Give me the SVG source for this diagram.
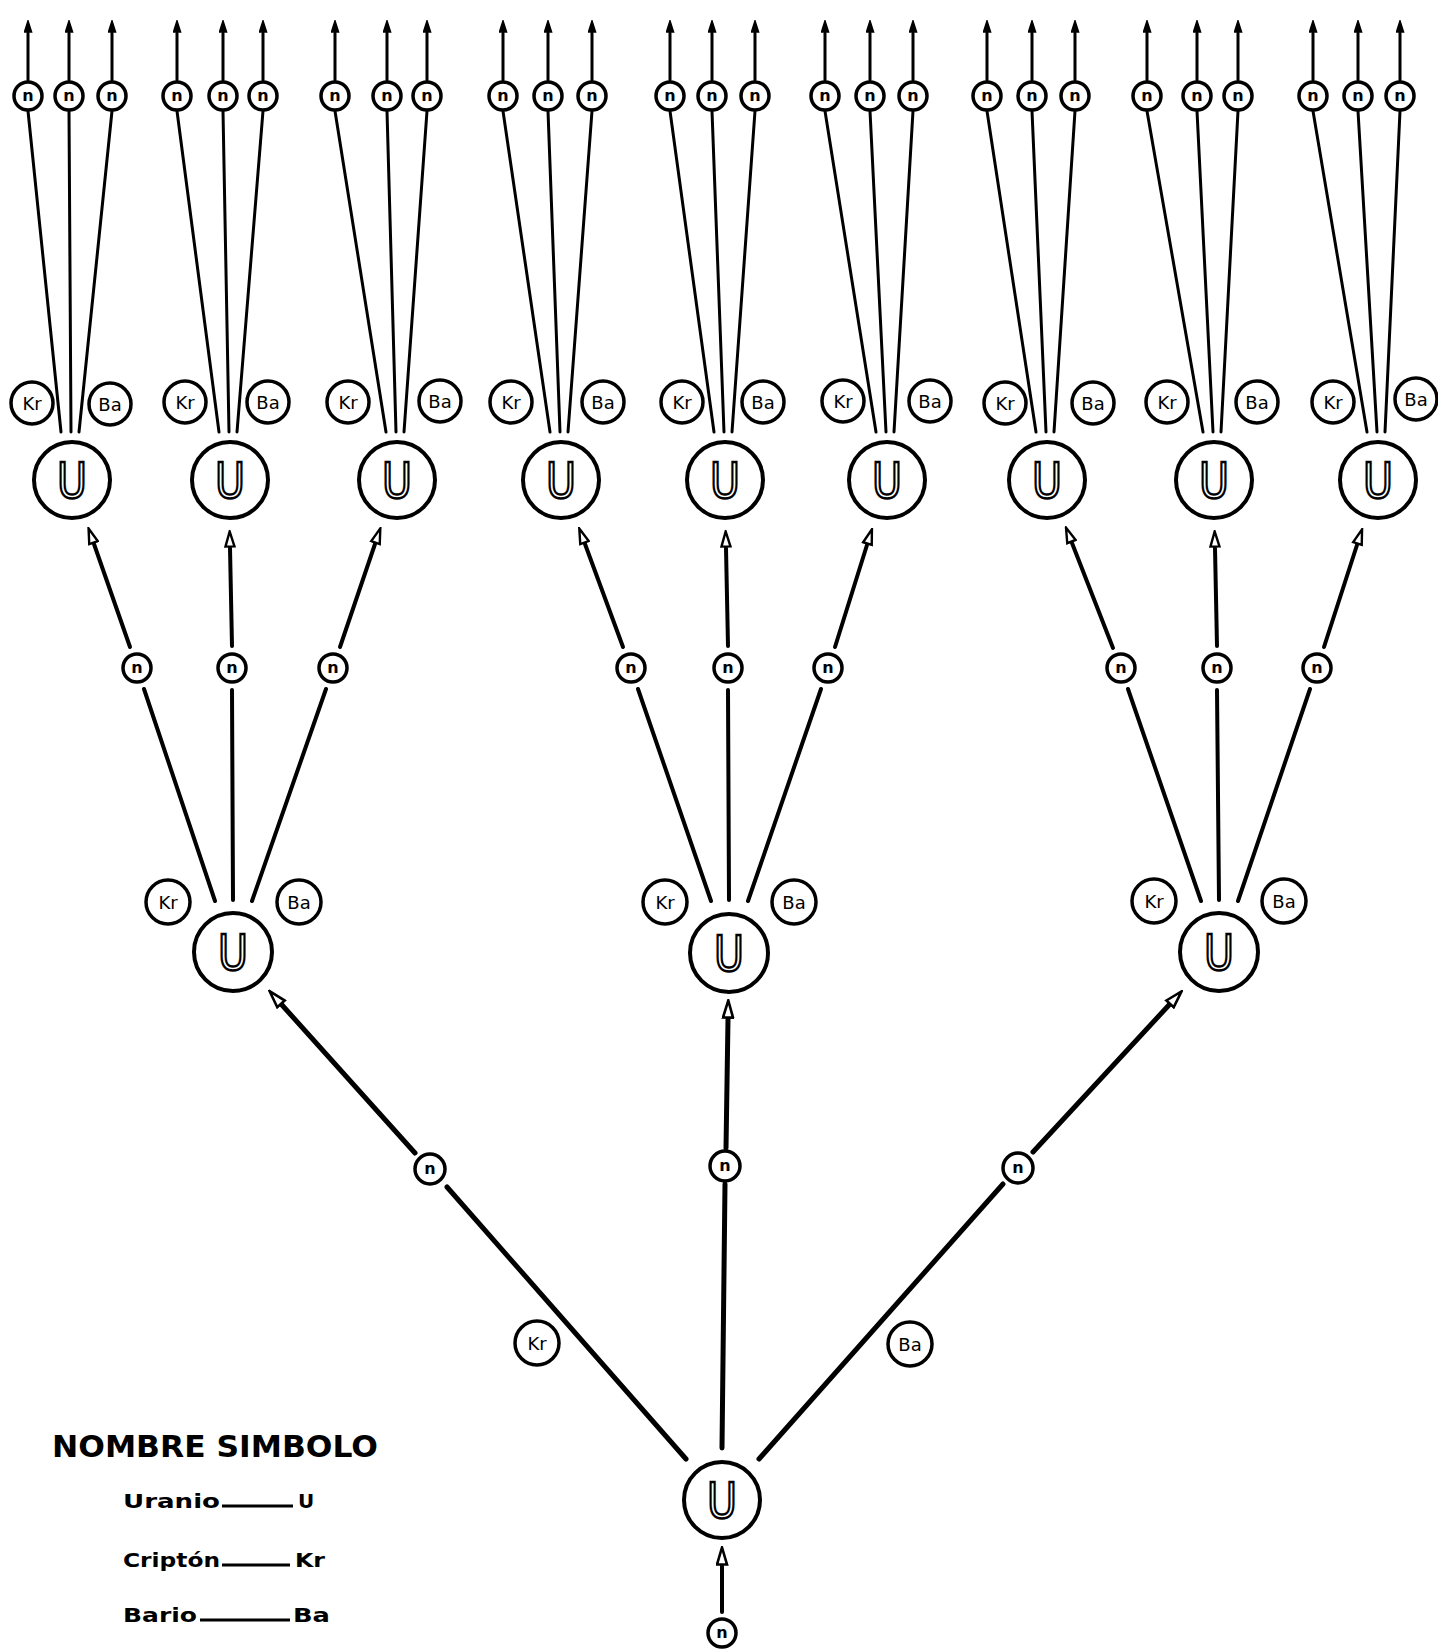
<svg xmlns="http://www.w3.org/2000/svg" width="1438" height="1650" viewBox="0 0 1438 1650">
<style>
.big{fill:#fff;stroke:#000;stroke-width:4}
.nn{fill:#fff;stroke:#000;stroke-width:3.5}
.lab{fill:#fff;stroke:#000;stroke-width:3.5}
.ut{font-family:"DejaVu Sans",sans-serif;font-size:50px;fill:#fff;stroke:#000;stroke-width:2.6;text-anchor:middle}
.nt{font-family:"DejaVu Sans",sans-serif;font-weight:bold;font-size:16px;fill:#000;text-anchor:middle}
.lt{font-family:"DejaVu Sans",sans-serif;font-size:18px;fill:#000;text-anchor:middle}
.c1{stroke:#000;stroke-width:5;fill:none;stroke-linecap:round}
.c2{stroke:#000;stroke-width:4;fill:none;stroke-linecap:round}
.c3{stroke:#000;stroke-width:3;fill:none;stroke-linecap:round}
.leg{font-family:"DejaVu Sans",sans-serif;font-weight:bold;fill:#000}
</style>
<defs>
<marker id="aL" viewBox="0 0 20 13" refX="0" refY="6.5" markerWidth="20" markerHeight="13" markerUnits="userSpaceOnUse" orient="auto"><path d="M1.5,1.5 L18.5,6.5 L1.5,11.5 Z" fill="#fff" stroke="#000" stroke-width="2.6"/></marker>
<marker id="aM" viewBox="0 0 18 12" refX="0" refY="6" markerWidth="18" markerHeight="12" markerUnits="userSpaceOnUse" orient="auto"><path d="M1.5,1.5 L16.5,6 L1.5,10.5 Z" fill="#fff" stroke="#000" stroke-width="2.4"/></marker>
<marker id="aS" viewBox="0 0 13 9" refX="0" refY="4.5" markerWidth="13" markerHeight="9" markerUnits="userSpaceOnUse" orient="auto"><path d="M1,1 L12,4.5 L1,8 Z" fill="#000" stroke="#000" stroke-width="1.6"/></marker>
</defs>
<rect width="1438" height="1650" fill="#fff"/>

<g id="connectors">
<!-- bottom -->
<line class="c2" x1="722" y1="1612" x2="722" y2="1566" marker-end="url(#aL)"/>
<!-- main level -->
<line class="c1" x1="686" y1="1459" x2="447" y2="1187"/>
<line class="c1" x1="415" y1="1153" x2="282" y2="1005" marker-end="url(#aL)"/>
<line class="c1" x1="722" y1="1448" x2="725" y2="1184"/>
<line class="c1" x1="726" y1="1148" x2="728" y2="1019" marker-end="url(#aL)"/>
<line class="c1" x1="759" y1="1459" x2="1003" y2="1184"/>
<line class="c1" x1="1033" y1="1152" x2="1169" y2="1005" marker-end="url(#aL)"/>
<!-- mid level, left group -->
<line class="c2" x1="215" y1="901" x2="144" y2="689"/>
<line class="c2" x1="130" y1="647" x2="94" y2="544" marker-end="url(#aM)"/>
<line class="c2" x1="233" y1="900" x2="232" y2="690"/>
<line class="c2" x1="232" y1="646" x2="230" y2="548" marker-end="url(#aM)"/>
<line class="c2" x1="252" y1="901" x2="326" y2="689"/>
<line class="c2" x1="340" y1="647" x2="375" y2="544" marker-end="url(#aM)"/>
<!-- mid level, middle group -->
<line class="c2" x1="711" y1="901" x2="638" y2="689"/>
<line class="c2" x1="623" y1="647" x2="585" y2="544" marker-end="url(#aM)"/>
<line class="c2" x1="729" y1="900" x2="728" y2="690"/>
<line class="c2" x1="728" y1="646" x2="726" y2="548" marker-end="url(#aM)"/>
<line class="c2" x1="748" y1="901" x2="821" y2="689"/>
<line class="c2" x1="835" y1="647" x2="867" y2="545" marker-end="url(#aM)"/>
<!-- mid level, right group -->
<line class="c2" x1="1201" y1="901" x2="1128" y2="689"/>
<line class="c2" x1="1113" y1="648" x2="1072" y2="543" marker-end="url(#aM)"/>
<line class="c2" x1="1219" y1="900" x2="1217" y2="690"/>
<line class="c2" x1="1217" y1="646" x2="1215" y2="548" marker-end="url(#aM)"/>
<line class="c2" x1="1238" y1="901" x2="1310" y2="689"/>
<line class="c2" x1="1324" y1="647" x2="1357" y2="545" marker-end="url(#aM)"/>
<!-- top fans -->
<line class="c3" x1="28" y1="111" x2="61" y2="432"/><line class="c3" x1="69" y1="111" x2="71" y2="432"/><line class="c3" x1="112" y1="111" x2="79" y2="432"/>
<line class="c3" x1="177" y1="111" x2="219" y2="432"/><line class="c3" x1="223" y1="111" x2="229" y2="432"/><line class="c3" x1="263" y1="111" x2="237" y2="432"/>
<line class="c3" x1="335" y1="111" x2="386" y2="432"/><line class="c3" x1="387" y1="111" x2="396" y2="432"/><line class="c3" x1="427" y1="111" x2="404" y2="432"/>
<line class="c3" x1="503" y1="111" x2="550" y2="432"/><line class="c3" x1="548" y1="111" x2="560" y2="432"/><line class="c3" x1="592" y1="111" x2="568" y2="432"/>
<line class="c3" x1="670" y1="111" x2="714" y2="432"/><line class="c3" x1="712" y1="111" x2="724" y2="432"/><line class="c3" x1="755" y1="111" x2="732" y2="432"/>
<line class="c3" x1="825" y1="111" x2="876" y2="432"/><line class="c3" x1="870" y1="111" x2="886" y2="432"/><line class="c3" x1="913" y1="111" x2="894" y2="432"/>
<line class="c3" x1="987" y1="111" x2="1036" y2="432"/><line class="c3" x1="1032" y1="111" x2="1046" y2="432"/><line class="c3" x1="1075" y1="111" x2="1054" y2="432"/>
<line class="c3" x1="1147" y1="111" x2="1203" y2="432"/><line class="c3" x1="1197" y1="111" x2="1213" y2="432"/><line class="c3" x1="1238" y1="111" x2="1221" y2="432"/>
<line class="c3" x1="1313" y1="111" x2="1367" y2="432"/><line class="c3" x1="1358" y1="111" x2="1377" y2="432"/><line class="c3" x1="1400" y1="111" x2="1385" y2="432"/>
<!-- top arrows -->
<g marker-end="url(#aS)">
<line class="c3" x1="28" y1="80" x2="28" y2="33"/><line class="c3" x1="69" y1="80" x2="69" y2="33"/><line class="c3" x1="112" y1="80" x2="112" y2="33"/>
<line class="c3" x1="177" y1="80" x2="177" y2="33"/><line class="c3" x1="223" y1="80" x2="223" y2="33"/><line class="c3" x1="263" y1="80" x2="263" y2="33"/>
<line class="c3" x1="335" y1="80" x2="335" y2="33"/><line class="c3" x1="387" y1="80" x2="387" y2="33"/><line class="c3" x1="427" y1="80" x2="427" y2="33"/>
<line class="c3" x1="503" y1="80" x2="503" y2="33"/><line class="c3" x1="548" y1="80" x2="548" y2="33"/><line class="c3" x1="592" y1="80" x2="592" y2="33"/>
<line class="c3" x1="670" y1="80" x2="670" y2="33"/><line class="c3" x1="712" y1="80" x2="712" y2="33"/><line class="c3" x1="755" y1="80" x2="755" y2="33"/>
<line class="c3" x1="825" y1="80" x2="825" y2="33"/><line class="c3" x1="870" y1="80" x2="870" y2="33"/><line class="c3" x1="913" y1="80" x2="913" y2="33"/>
<line class="c3" x1="987" y1="80" x2="987" y2="33"/><line class="c3" x1="1032" y1="80" x2="1032" y2="33"/><line class="c3" x1="1075" y1="80" x2="1075" y2="33"/>
<line class="c3" x1="1147" y1="80" x2="1147" y2="33"/><line class="c3" x1="1197" y1="80" x2="1197" y2="33"/><line class="c3" x1="1238" y1="80" x2="1238" y2="33"/>
<line class="c3" x1="1313" y1="80" x2="1313" y2="33"/><line class="c3" x1="1358" y1="80" x2="1358" y2="33"/><line class="c3" x1="1400" y1="80" x2="1400" y2="33"/>
</g>
</g>

<!-- root level -->
<g id="n-source"><circle class="nn" cx="722" cy="1633" r="14"/><text class="nt" x="722" y="1638">n</text></g>
<g id="U-root"><circle class="big" cx="722" cy="1500" r="38"/><text class="ut" x="722" y="1518" textLength="30" lengthAdjust="spacingAndGlyphs">U</text></g>
<g id="n-main-1"><circle class="nn" cx="430" cy="1169" r="15"/><text class="nt" x="430" y="1174">n</text></g>
<g id="n-main-2"><circle class="nn" cx="725" cy="1166" r="15"/><text class="nt" x="725" y="1171">n</text></g>
<g id="n-main-3"><circle class="nn" cx="1018" cy="1168" r="15"/><text class="nt" x="1018" y="1173">n</text></g>
<g id="Kr-main"><circle class="lab" cx="537" cy="1343" r="22"/><text class="lt" x="537" y="1350">Kr</text></g>
<g id="Ba-main"><circle class="lab" cx="910" cy="1344" r="22"/><text class="lt" x="910" y="1351">Ba</text></g>

<!-- mid level -->
<g id="U-mid-1"><circle class="big" cx="233" cy="952" r="39"/><text class="ut" x="233" y="970" textLength="30" lengthAdjust="spacingAndGlyphs">U</text></g>
<g id="U-mid-2"><circle class="big" cx="729" cy="953" r="39"/><text class="ut" x="729" y="971" textLength="30" lengthAdjust="spacingAndGlyphs">U</text></g>
<g id="U-mid-3"><circle class="big" cx="1219" cy="952" r="39"/><text class="ut" x="1219" y="970" textLength="30" lengthAdjust="spacingAndGlyphs">U</text></g>
<g id="Kr-mid-1"><circle class="lab" cx="168" cy="902" r="22"/><text class="lt" x="168" y="909">Kr</text></g>
<g id="Ba-mid-1"><circle class="lab" cx="299" cy="902" r="22"/><text class="lt" x="299" y="909">Ba</text></g>
<g id="Kr-mid-2"><circle class="lab" cx="665" cy="902" r="22"/><text class="lt" x="665" y="909">Kr</text></g>
<g id="Ba-mid-2"><circle class="lab" cx="794" cy="902" r="22"/><text class="lt" x="794" y="909">Ba</text></g>
<g id="Kr-mid-3"><circle class="lab" cx="1154" cy="901" r="22"/><text class="lt" x="1154" y="908">Kr</text></g>
<g id="Ba-mid-3"><circle class="lab" cx="1284" cy="901" r="22"/><text class="lt" x="1284" y="908">Ba</text></g>
<g id="n-mid-1"><circle class="nn" cx="137" cy="668" r="14"/><text class="nt" x="137" y="673">n</text></g>
<g id="n-mid-2"><circle class="nn" cx="232" cy="668" r="14"/><text class="nt" x="232" y="673">n</text></g>
<g id="n-mid-3"><circle class="nn" cx="333" cy="668" r="14"/><text class="nt" x="333" y="673">n</text></g>
<g id="n-mid-4"><circle class="nn" cx="631" cy="668" r="14"/><text class="nt" x="631" y="673">n</text></g>
<g id="n-mid-5"><circle class="nn" cx="728" cy="668" r="14"/><text class="nt" x="728" y="673">n</text></g>
<g id="n-mid-6"><circle class="nn" cx="828" cy="668" r="14"/><text class="nt" x="828" y="673">n</text></g>
<g id="n-mid-7"><circle class="nn" cx="1121" cy="668" r="14"/><text class="nt" x="1121" y="673">n</text></g>
<g id="n-mid-8"><circle class="nn" cx="1217" cy="668" r="14"/><text class="nt" x="1217" y="673">n</text></g>
<g id="n-mid-9"><circle class="nn" cx="1317" cy="668" r="14"/><text class="nt" x="1317" y="673">n</text></g>

<!-- upper level U -->
<g id="U-up-1"><circle class="big" cx="72" cy="480" r="38"/><text class="ut" x="72" y="498" textLength="30" lengthAdjust="spacingAndGlyphs">U</text></g>
<g id="U-up-2"><circle class="big" cx="230" cy="480" r="38"/><text class="ut" x="230" y="498" textLength="30" lengthAdjust="spacingAndGlyphs">U</text></g>
<g id="U-up-3"><circle class="big" cx="397" cy="480" r="38"/><text class="ut" x="397" y="498" textLength="30" lengthAdjust="spacingAndGlyphs">U</text></g>
<g id="U-up-4"><circle class="big" cx="561" cy="480" r="38"/><text class="ut" x="561" y="498" textLength="30" lengthAdjust="spacingAndGlyphs">U</text></g>
<g id="U-up-5"><circle class="big" cx="725" cy="480" r="38"/><text class="ut" x="725" y="498" textLength="30" lengthAdjust="spacingAndGlyphs">U</text></g>
<g id="U-up-6"><circle class="big" cx="887" cy="480" r="38"/><text class="ut" x="887" y="498" textLength="30" lengthAdjust="spacingAndGlyphs">U</text></g>
<g id="U-up-7"><circle class="big" cx="1047" cy="480" r="38"/><text class="ut" x="1047" y="498" textLength="30" lengthAdjust="spacingAndGlyphs">U</text></g>
<g id="U-up-8"><circle class="big" cx="1214" cy="480" r="38"/><text class="ut" x="1214" y="498" textLength="30" lengthAdjust="spacingAndGlyphs">U</text></g>
<g id="U-up-9"><circle class="big" cx="1378" cy="480" r="38"/><text class="ut" x="1378" y="498" textLength="30" lengthAdjust="spacingAndGlyphs">U</text></g>

<!-- upper level labels -->
<g id="Kr-up-1"><circle class="lab" cx="32" cy="403" r="21"/><text class="lt" x="32" y="410">Kr</text></g>
<g id="Ba-up-1"><circle class="lab" cx="110" cy="404" r="21"/><text class="lt" x="110" y="411">Ba</text></g>
<g id="Kr-up-2"><circle class="lab" cx="185" cy="402" r="21"/><text class="lt" x="185" y="409">Kr</text></g>
<g id="Ba-up-2"><circle class="lab" cx="268" cy="402" r="21"/><text class="lt" x="268" y="409">Ba</text></g>
<g id="Kr-up-3"><circle class="lab" cx="348" cy="402" r="21"/><text class="lt" x="348" y="409">Kr</text></g>
<g id="Ba-up-3"><circle class="lab" cx="440" cy="401" r="21"/><text class="lt" x="440" y="408">Ba</text></g>
<g id="Kr-up-4"><circle class="lab" cx="511" cy="402" r="21"/><text class="lt" x="511" y="409">Kr</text></g>
<g id="Ba-up-4"><circle class="lab" cx="603" cy="402" r="21"/><text class="lt" x="603" y="409">Ba</text></g>
<g id="Kr-up-5"><circle class="lab" cx="682" cy="402" r="21"/><text class="lt" x="682" y="409">Kr</text></g>
<g id="Ba-up-5"><circle class="lab" cx="763" cy="402" r="21"/><text class="lt" x="763" y="409">Ba</text></g>
<g id="Kr-up-6"><circle class="lab" cx="843" cy="401" r="21"/><text class="lt" x="843" y="408">Kr</text></g>
<g id="Ba-up-6"><circle class="lab" cx="930" cy="401" r="21"/><text class="lt" x="930" y="408">Ba</text></g>
<g id="Kr-up-7"><circle class="lab" cx="1005" cy="403" r="21"/><text class="lt" x="1005" y="410">Kr</text></g>
<g id="Ba-up-7"><circle class="lab" cx="1093" cy="403" r="21"/><text class="lt" x="1093" y="410">Ba</text></g>
<g id="Kr-up-8"><circle class="lab" cx="1167" cy="402" r="21"/><text class="lt" x="1167" y="409">Kr</text></g>
<g id="Ba-up-8"><circle class="lab" cx="1257" cy="402" r="21"/><text class="lt" x="1257" y="409">Ba</text></g>
<g id="Kr-up-9"><circle class="lab" cx="1333" cy="402" r="21"/><text class="lt" x="1333" y="409">Kr</text></g>
<g id="Ba-up-9"><circle class="lab" cx="1416" cy="399" r="21"/><text class="lt" x="1416" y="406">Ba</text></g>

<!-- top n -->
<g id="n-top-1"><circle class="nn" cx="28" cy="96" r="14"/><text class="nt" x="28" y="101">n</text></g>
<g id="n-top-2"><circle class="nn" cx="69" cy="96" r="14"/><text class="nt" x="69" y="101">n</text></g>
<g id="n-top-3"><circle class="nn" cx="112" cy="96" r="14"/><text class="nt" x="112" y="101">n</text></g>
<g id="n-top-4"><circle class="nn" cx="177" cy="96" r="14"/><text class="nt" x="177" y="101">n</text></g>
<g id="n-top-5"><circle class="nn" cx="223" cy="96" r="14"/><text class="nt" x="223" y="101">n</text></g>
<g id="n-top-6"><circle class="nn" cx="263" cy="96" r="14"/><text class="nt" x="263" y="101">n</text></g>
<g id="n-top-7"><circle class="nn" cx="335" cy="96" r="14"/><text class="nt" x="335" y="101">n</text></g>
<g id="n-top-8"><circle class="nn" cx="387" cy="96" r="14"/><text class="nt" x="387" y="101">n</text></g>
<g id="n-top-9"><circle class="nn" cx="427" cy="96" r="14"/><text class="nt" x="427" y="101">n</text></g>
<g id="n-top-10"><circle class="nn" cx="503" cy="96" r="14"/><text class="nt" x="503" y="101">n</text></g>
<g id="n-top-11"><circle class="nn" cx="548" cy="96" r="14"/><text class="nt" x="548" y="101">n</text></g>
<g id="n-top-12"><circle class="nn" cx="592" cy="96" r="14"/><text class="nt" x="592" y="101">n</text></g>
<g id="n-top-13"><circle class="nn" cx="670" cy="96" r="14"/><text class="nt" x="670" y="101">n</text></g>
<g id="n-top-14"><circle class="nn" cx="712" cy="96" r="14"/><text class="nt" x="712" y="101">n</text></g>
<g id="n-top-15"><circle class="nn" cx="755" cy="96" r="14"/><text class="nt" x="755" y="101">n</text></g>
<g id="n-top-16"><circle class="nn" cx="825" cy="96" r="14"/><text class="nt" x="825" y="101">n</text></g>
<g id="n-top-17"><circle class="nn" cx="870" cy="96" r="14"/><text class="nt" x="870" y="101">n</text></g>
<g id="n-top-18"><circle class="nn" cx="913" cy="96" r="14"/><text class="nt" x="913" y="101">n</text></g>
<g id="n-top-19"><circle class="nn" cx="987" cy="96" r="14"/><text class="nt" x="987" y="101">n</text></g>
<g id="n-top-20"><circle class="nn" cx="1032" cy="96" r="14"/><text class="nt" x="1032" y="101">n</text></g>
<g id="n-top-21"><circle class="nn" cx="1075" cy="96" r="14"/><text class="nt" x="1075" y="101">n</text></g>
<g id="n-top-22"><circle class="nn" cx="1147" cy="96" r="14"/><text class="nt" x="1147" y="101">n</text></g>
<g id="n-top-23"><circle class="nn" cx="1197" cy="96" r="14"/><text class="nt" x="1197" y="101">n</text></g>
<g id="n-top-24"><circle class="nn" cx="1238" cy="96" r="14"/><text class="nt" x="1238" y="101">n</text></g>
<g id="n-top-25"><circle class="nn" cx="1313" cy="96" r="14"/><text class="nt" x="1313" y="101">n</text></g>
<g id="n-top-26"><circle class="nn" cx="1358" cy="96" r="14"/><text class="nt" x="1358" y="101">n</text></g>
<g id="n-top-27"><circle class="nn" cx="1400" cy="96" r="14"/><text class="nt" x="1400" y="101">n</text></g>

<!-- legend -->
<g id="legend">
<text class="leg" x="52" y="1457" font-size="30" textLength="326" lengthAdjust="spacingAndGlyphs">NOMBRE SIMBOLO</text>
<text class="leg" x="123" y="1508" font-size="20" textLength="97" lengthAdjust="spacingAndGlyphs">Uranio</text>
<line x1="222" y1="1506" x2="293" y2="1506" stroke="#000" stroke-width="3"/>
<text class="leg" x="298" y="1508" font-size="20">U</text>
<text class="leg" x="123" y="1567" font-size="20" textLength="97" lengthAdjust="spacingAndGlyphs">Criptón</text>
<line x1="222" y1="1565" x2="290" y2="1565" stroke="#000" stroke-width="3"/>
<text class="leg" x="295" y="1567" font-size="20" textLength="30" lengthAdjust="spacingAndGlyphs">Kr</text>
<text class="leg" x="123" y="1622" font-size="20" textLength="74" lengthAdjust="spacingAndGlyphs">Bario</text>
<line x1="200" y1="1620" x2="290" y2="1620" stroke="#000" stroke-width="3"/>
<text class="leg" x="293" y="1622" font-size="20" textLength="37" lengthAdjust="spacingAndGlyphs">Ba</text>
</g>
</svg>
